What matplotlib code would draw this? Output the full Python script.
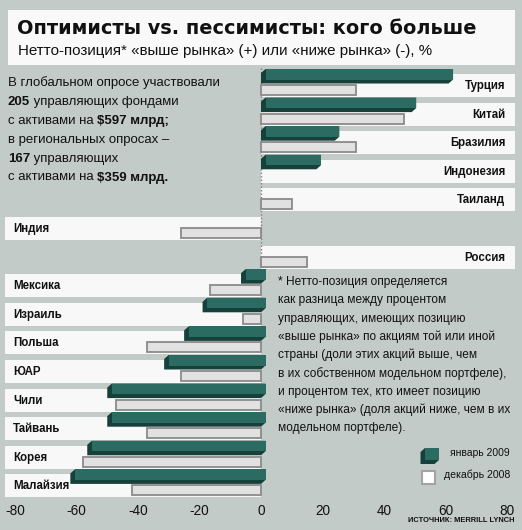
import matplotlib
matplotlib.use("Agg")
import matplotlib.pyplot as plt
from matplotlib.patches import Rectangle, Polygon
from matplotlib import font_manager as fm

# ---------------- data ----------------
countries = ['Турция', 'Китай', 'Бразилия', 'Индонезия', 'Таиланд', 'Индия', 'Россия',
             'Мексика', 'Израиль', 'Польша', 'ЮАР', 'Чили', 'Тайвань', 'Корея', 'Малайзия']
jan_2009 = [61, 49, 24, 18, 0, 0, 0, -6.5, -19, -25, -31.5, -50, -50, -56.5, -62]
dec_2008 = [31, 46.5, 31, 0, 10, -26, 15, -16.5, -6, -37, -26, -47, -37, -58, -42]
xticks = [-80, -60, -40, -20, 0, 20, 40, 60, 80]

title = 'Оптимисты vs. пессимисты: кого больше'
subtitle = 'Нетто-позиция* «выше рынка» (+) или «ниже рынка» (-), %'
left_note = [
    [('В глобальном опросе участвовали', False)],
    [('205', True), (' управляющих фондами', False)],
    [('с активами на ', False), ('$597 млрд;', True)],
    [('в региональных опросах –', False)],
    [('167', True), (' управляющих', False)],
    [('с активами на ', False), ('$359 млрд.', True)],
]
footnote = [
    '* Нетто-позиция определяется',
    'как разница между процентом',
    'управляющих, имеющих позицию',
    '«выше рынка» по акциям той или иной',
    'страны (доли этих акций выше, чем',
    'в их собственном модельном портфеле),',
    'и процентом тех, кто имеет позицию',
    '«ниже рынка» (доля акций ниже, чем в их',
    'модельном портфеле).',
]
legend_labels = ['январь 2009', 'декабрь 2008']
source = 'ИСТОЧНИК: MERRILL LYNCH'

# ---------------- style ----------------
W, H = 522, 530
BG = '#c3cbc9'
BAND = '#f8f8f8'
TEAL = '#2b6b61'
DARK = '#16403a'
GREYF = '#e1e1e1'
GREYE = '#8a8a8a'

avail = {f.name for f in fm.fontManager.ttflist}
NARROW = 'Liberation Sans Narrow' if 'Liberation Sans Narrow' in avail else 'Liberation Sans'
SANS = 'Liberation Sans'
plt.rcParams['font.family'] = [SANS, 'DejaVu Sans']

fig = plt.figure(figsize=(W / 100, H / 100), dpi=100)
fig.patch.set_facecolor(BG)

# overlay axes in pixel coordinates
ov = fig.add_axes([0, 0, 1, 1])
ov.set_xlim(0, W)
ov.set_ylim(H, 0)
ov.axis('off')
ov.set_zorder(0)

fig.canvas.draw()
renderer = fig.canvas.get_renderer()


def text_width(t):
    bb = t.get_window_extent(renderer=renderer)
    return bb.width


def fit_text(x, y, s, target_w, size, **kw):
    t = ov.text(x, y, s, fontsize=size, **kw)
    w = text_width(t)
    if w > 0:
        t.set_fontsize(size * target_w / w)
    return t


# title box
ov.add_patch(Rectangle((8, 10), 507, 55, facecolor='#f9f9f9', edgecolor='none'))
fit_text(17, 28, title, 458, 16, fontweight='heavy', family=['DejaVu Sans'],
         va='center', ha='left', color='#111111')
fit_text(18, 51, subtitle, 416, 10, family=[SANS, 'DejaVu Sans'],
         va='center', ha='left', color='#111111')

# left note with bold segments
for i, segs in enumerate(left_note):
    x = 8
    y = 83 + 18.9 * i
    for s, b in segs:
        t = ov.text(x, y, s, fontsize=9.5, fontweight='bold' if b else 'normal',
                    va='center', ha='left', color='#111111')
        x += text_width(t)

# footnote: common size so the longest line is ~232 px wide
fn_texts = [ov.text(278, 282 + 18.3 * i, s, fontsize=9.3, va='center', ha='left',
                    color='#111111') for i, s in enumerate(footnote)]
maxw = max(text_width(t) for t in fn_texts)
for t in fn_texts:
    t.set_fontsize(9.3 * 232 / maxw)

# legend (pixel coords)
dxp, dyp = 4.5, 4.0
fx0, fx1, fy0, fy1 = 425, 439, 448, 460
ov.add_patch(Polygon([(fx0, fy0), (fx1, fy0), (fx1, fy1), (fx1 - dxp, fy1 + dyp),
                      (fx0 - dxp, fy1 + dyp), (fx0 - dxp, fy0 + dyp)],
                     closed=True, facecolor=DARK, edgecolor='none'))
ov.add_patch(Rectangle((fx0, fy0), fx1 - fx0, fy1 - fy0, facecolor=TEAL, edgecolor='none'))
ov.add_patch(Rectangle((421.5, 470.5), 13, 13, facecolor='white', edgecolor='#a3a3a3', lw=1.5))
fit_text(510, 453, legend_labels[0], 60, 9, ha='right', va='center', color='#111111')
fit_text(510, 475, legend_labels[1], 66, 9, ha='right', va='center', color='#111111')

fit_text(514, 521, source, 106, 7, fontweight='bold', ha='right', va='center',
         color='#111111')

# ---------------- main axes ----------------
ZERO_PX, SCALE = 261.0, 3.075       # px of value 0, px per unit
ROW0, ROWSTEP = 85.5, 28.6          # px of first row center, px per row
top_px, bot_px = 60.0, 497.0
ax = fig.add_axes([0, 1 - bot_px / H, 1, (bot_px - top_px) / H])
ax.set_zorder(1)
ax.patch.set_alpha(0)
ax.set_xlim(-ZERO_PX / SCALE, (W - ZERO_PX) / SCALE)
ax.set_ylim((bot_px - ROW0) / ROWSTEP, (top_px - ROW0) / ROWSTEP)
for sp in ax.spines.values():
    sp.set_visible(False)
ax.set_yticks([])
ax.set_xticks(xticks)
ax.set_xticklabels([str(v) for v in xticks])
ax.tick_params(axis='x', length=0, pad=5, labelsize=9.8, labelcolor='#111111')
for lab in ax.get_xticklabels():
    lab.set_family([NARROW, 'DejaVu Sans'])

band_h = 23 / ROWSTEP
left_edge = (5 - ZERO_PX) / SCALE
right_edge = (515 - ZERO_PX) / SCALE
dx = 4.5 / SCALE
dy = 4.0 / ROWSTEP
g_top = -16.5 / ROWSTEP
g_bot = -6.0 / ROWSTEP
gr_top, gr_h = -0.5 / ROWSTEP, 10 / ROWSTEP

# dotted zero line
ax.plot([0, 0], [-0.62, 6.5], color='#7d7d7d', lw=1, ls=(0, (1, 1.5)), zorder=1)

for i, name in enumerate(countries):
    j, d = jan_2009[i], dec_2008[i]
    right_side = (j + d) >= 0
    if right_side:
        ax.add_patch(Rectangle((0, i - band_h / 2), right_edge, band_h,
                               facecolor=BAND, edgecolor='none', zorder=0.5))
        ax.text(right_edge - 3.2, i + 0.02, name, ha='right', va='center', fontsize=8.3,
                fontweight='bold', color='#111111', zorder=4)
    else:
        ax.add_patch(Rectangle((left_edge, i - band_h / 2), -left_edge, band_h,
                               facecolor=BAND, edgecolor='none', zorder=0.5))
        ax.text(left_edge + 2.6, i + 0.02, name, ha='left', va='center', fontsize=8.3,
                fontweight='bold', color='#111111', zorder=4)

# December 2008 bars (grey outlined)
dec_rows = [i for i, v in enumerate(dec_2008) if v != 0]
ax.barh([i + gr_top + gr_h / 2 for i in dec_rows], [dec_2008[i] for i in dec_rows],
        height=gr_h, left=0, color=GREYF, edgecolor=GREYE, linewidth=1.3, zorder=2)

# January 2009 bars (3D teal)
jan_rows = [i for i, v in enumerate(jan_2009) if v != 0]
for i in jan_rows:
    v = jan_2009[i]
    x0, x1 = min(0, v) + dx, max(0, v) + dx
    yt, yb = i + g_top, i + g_bot
    ax.add_patch(Polygon([(x0, yt), (x1, yt), (x1, yb), (x1 - dx, yb + dy),
                          (x0 - dx, yb + dy), (x0 - dx, yt + dy)],
                         closed=True, facecolor=DARK, edgecolor='none', zorder=3))
ax.barh([i + (g_top + g_bot) / 2 for i in jan_rows],
        [abs(jan_2009[i]) for i in jan_rows],
        height=g_bot - g_top, left=[min(0, jan_2009[i]) + dx for i in jan_rows],
        color=TEAL, edgecolor='none', zorder=3.5)

fig.savefig('out.png', dpi=100, facecolor=BG)
